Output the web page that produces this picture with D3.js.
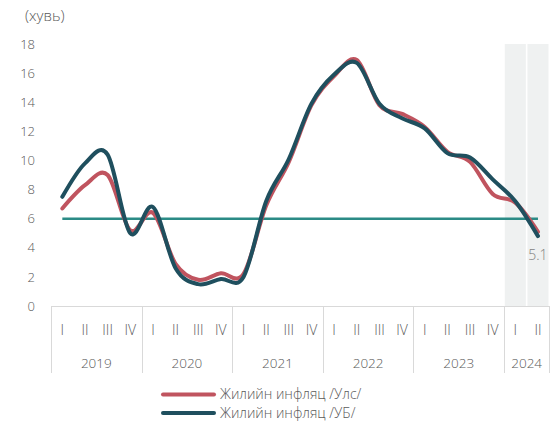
<!DOCTYPE html>
<html>
<head>
<meta charset="utf-8">
<script src="https://cdn.jsdelivr.net/npm/d3@7"></script>
<style>
  html, body { margin: 0; padding: 0; background: #fff; }
  svg { display: block; font-family: "Open Sans", "Noto Sans", sans-serif; font-weight: 300; }
</style>
</head>
<body>
<svg id="chart" width="552" height="421"></svg>
<script>
// ---- data ----
const quarters = ["I","II","III","IV","I","II","III","IV","I","II","III","IV","I","II","III","IV","I","II","III","IV","I","II"];
const years = ["2019","2020","2021","2022","2023","2024"];
const yearOf = [0,0,0,0,1,1,1,1,2,2,2,2,3,3,3,3,4,4,4,4,5,5];
const inflNational = [6.7, 8.3, 9.0, 5.2, 6.4, 2.9, 1.8, 2.25, 2.2, 6.9, 9.9, 13.8, 15.8, 16.9, 13.8, 13.2, 12.3, 10.6, 9.9, 7.7, 7.1, 5.1];
const inflUB =       [7.5, 9.8, 10.4, 5.0, 6.8, 2.6, 1.5, 1.85, 2.0, 7.2, 10.1, 13.9, 15.9, 16.7, 13.9, 12.9, 12.2, 10.5, 10.2, 8.7, 7.2, 4.8];
const target =       [6,6,6,6,6,6,6,6,6,6,6,6,6,6,6,6,6,6,6,6,6,6];
const forecastBand = [null,null,null,null,null,null,null,null,null,null,null,null,null,null,null,null,null,null,null,null,18,18];
const yTicks = [0,2,4,6,8,10,12,14,16,18];
const legendLabels = ["Жилийн инфляц /Улс/", "Жилийн инфляц /УБ/"];
const unitLabel = "(хувь)";
const endLabel = "5.1";

// ---- layout ----
const svg = d3.select("#chart");
const idx = d3.range(quarters.length);
const x = d3.scaleBand().domain(idx).range([51, 549.3]).padding(0);
const cx = i => x(i) + x.bandwidth() / 2;
const y = d3.scaleLinear().domain([0, 18]).range([306, 44]);
const textColor = "#595959";
const axisColor = "#d9d9d9";
const colNat = "#c0545f";
const colUB = "#1f4f5e";
const colTarget = "#2b8b86";

// unit label
svg.append("text").attr("x", 25).attr("y", 21)
  .attr("font-size", 15).attr("fill", textColor).text(unitLabel);

// forecast shading
svg.append("g").selectAll("rect")
  .data(idx.filter(i => forecastBand[i] != null))
  .join("rect")
  .attr("x", i => x(i) + 0.8)
  .attr("width", x.bandwidth() - 1.6)
  .attr("y", i => y(forecastBand[i]))
  .attr("height", i => y(0) - y(forecastBand[i]))
  .attr("fill", "#eff1f1");

// y axis labels
const yAxis = d3.axisLeft(y).tickValues(yTicks).tickSize(0).tickPadding(0);
const yg = svg.append("g").attr("transform", "translate(35,0)").call(yAxis);
yg.select(".domain").remove();
yg.selectAll("text").attr("font-size", 13).attr("fill", textColor)
  .attr("font-family", "'Open Sans', sans-serif").attr("font-weight", 300);

// category axis
const ag = svg.append("g");
ag.append("line").attr("x1", x.range()[0]).attr("x2", x.range()[1])
  .attr("y1", y(0) + 0.5).attr("y2", y(0) + 0.5)
  .attr("stroke", axisColor).attr("stroke-width", 1);
const yearStarts = years.map((yr, k) => idx.find(i => yearOf[i] === k));
const bounds = yearStarts.map(i => x(i)).concat([x.range()[1]]);
ag.selectAll("line.sep").data(bounds).join("line").attr("class", "sep")
  .attr("x1", d => Math.round(d) + 0.5).attr("x2", d => Math.round(d) + 0.5)
  .attr("y1", y(0)).attr("y2", 373)
  .attr("stroke", axisColor).attr("stroke-width", 1);
ag.selectAll("text.q").data(idx).join("text").attr("class", "q")
  .attr("x", i => cx(i)).attr("y", 334.5)
  .attr("text-anchor", "middle").attr("font-size", 14).attr("fill", textColor)
  .text(i => quarters[i]);
ag.selectAll("text.yr").data(years).join("text").attr("class", "yr")
  .attr("x", (d, k) => (bounds[k] + bounds[k + 1]) / 2).attr("y", 368)
  .attr("text-anchor", "middle").attr("font-size", 13.5).attr("fill", textColor)
  .text(d => d);

// lines
const lineGen = vals => d3.line()
  .x(i => cx(i)).y(i => y(vals[i]))
  .curve(d3.curveCardinal.tension(0))(idx);

svg.append("path").attr("d", d3.line().x(i => cx(i)).y(i => y(target[i]))(idx))
  .attr("fill", "none").attr("stroke", colTarget).attr("stroke-width", 2.5);
svg.append("path").attr("d", lineGen(inflNational))
  .attr("fill", "none").attr("stroke", colNat).attr("stroke-width", 4)
  .attr("stroke-linecap", "round").attr("stroke-linejoin", "round");
svg.append("path").attr("d", lineGen(inflUB))
  .attr("fill", "none").attr("stroke", colUB).attr("stroke-width", 4)
  .attr("stroke-linecap", "round").attr("stroke-linejoin", "round");

// end label
const last = idx.length - 1;
svg.append("text").attr("x", cx(last)).attr("y", y(inflNational[last]) + 28)
  .attr("text-anchor", "middle").attr("font-size", 14).attr("fill", "#7f7f7f")
  .text(endLabel);

// legend
const lg = svg.append("g");
const legendItems = [{label: legendLabels[0], color: colNat}, {label: legendLabels[1], color: colUB}];
legendItems.forEach((d, k) => {
  const ly = 394.5 + k * 18.5;
  lg.append("line").attr("x1", 163).attr("x2", 214).attr("y1", ly).attr("y2", ly)
    .attr("stroke", d.color).attr("stroke-width", 4).attr("stroke-linecap", "round");
  lg.append("text").attr("x", 220).attr("y", ly).attr("dy", "0.35em")
    .attr("font-size", 14).attr("fill", textColor).text(d.label);
});
</script>
</body>
</html>
